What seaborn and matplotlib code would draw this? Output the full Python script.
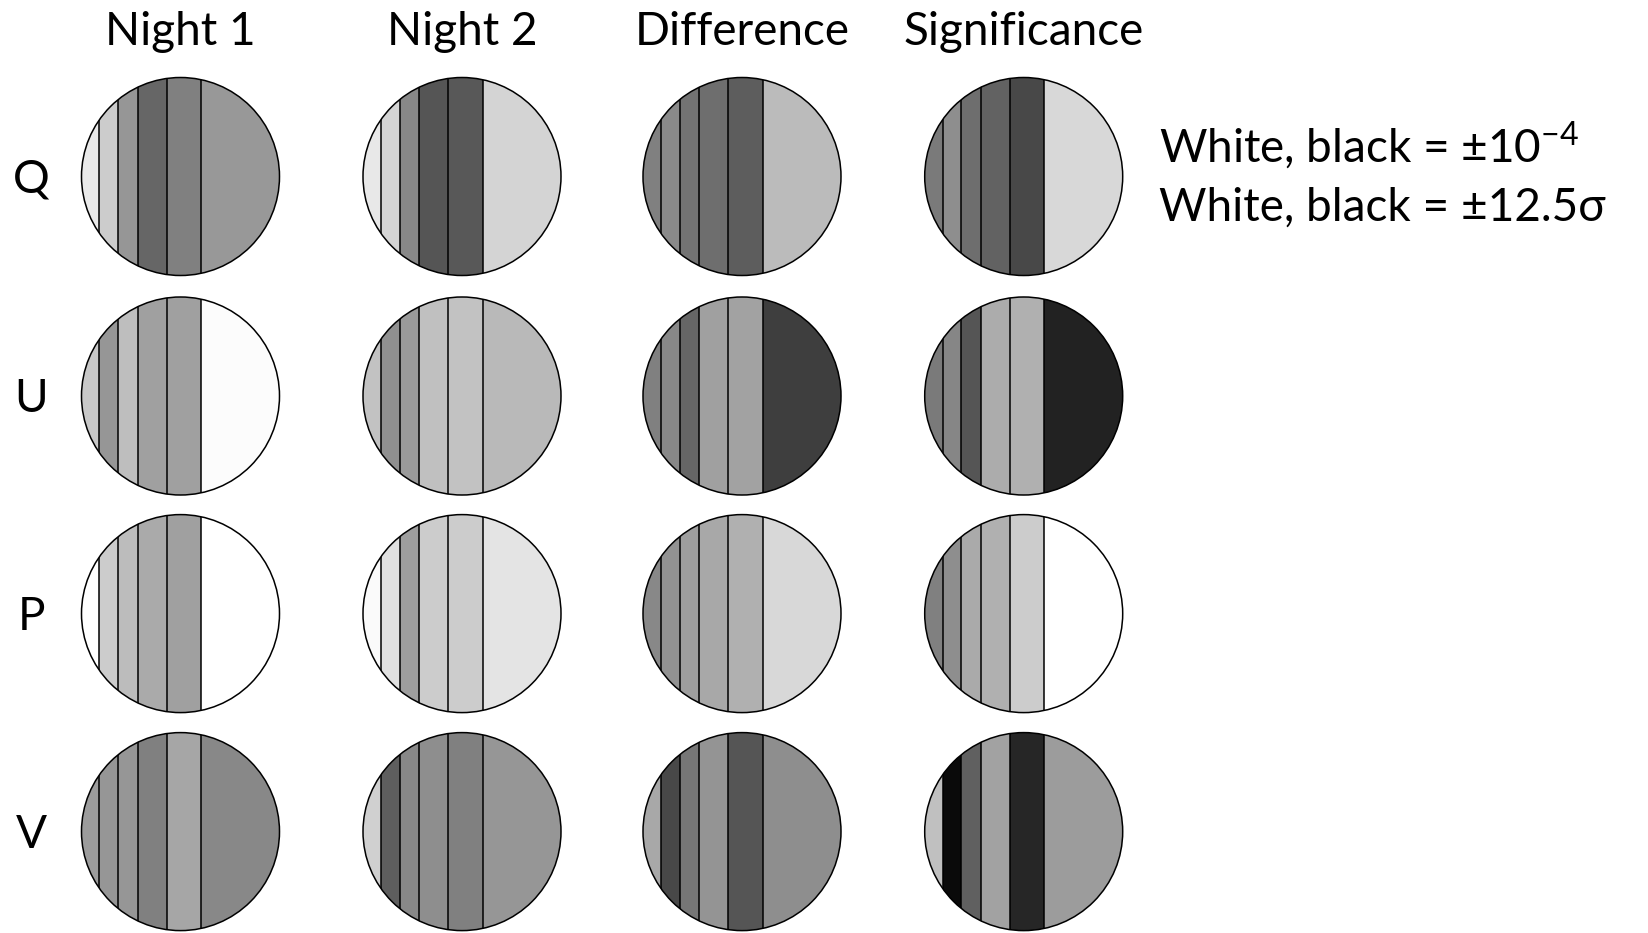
import numpy as np
import matplotlib
matplotlib.use("Agg")
import matplotlib.pyplot as plt
import seaborn as sns
from matplotlib.patches import Circle

# panels: rows are Stokes parameters, columns are the four maps
row_labels = ["Q", "U", "P", "V"]
col_labels = ["Night 1", "Night 2", "Difference", "Significance"]

# strip boundaries across the disc (in units of disc radius)
strip_edges = [-1.0, -0.82, -0.63, -0.43, -0.14, 0.21, 1.0]

# grey level (0=black, 255=white) of each strip, left to right
q_grey = [[234, 204, 150, 102, 128, 152],
          [232, 212, 136, 85, 88, 212],
          [128, 138, 115, 110, 93, 187],
          [122, 142, 110, 98, 72, 216]]
u_grey = [[200, 150, 190, 160, 160, 252],
          [194, 144, 154, 192, 194, 185],
          [128, 136, 102, 160, 162, 62],
          [122, 134, 85, 172, 176, 34]]
p_grey = [[255, 204, 188, 170, 160, 255],
          [250, 224, 158, 204, 204, 228],
          [136, 146, 158, 168, 176, 216],
          [128, 142, 170, 176, 204, 255]]
v_grey = [[156, 150, 150, 128, 166, 136],
          [208, 94, 136, 142, 128, 150],
          [168, 72, 118, 148, 85, 142],
          [192, 10, 96, 162, 38, 156]]
greys = [q_grey, u_grey, p_grey, v_grey]

legend_lines = ["White, black = ±10$^{\\mathregular{-4}}$",
                "White, black = ±12.5σ"]

sns.set_theme(style="white")
plt.rcParams["font.family"] = ["Lato", "DejaVu Sans"]
plt.rcParams["mathtext.fontset"] = "custom"
plt.rcParams["mathtext.rm"] = "Lato"

W, H = 1648, 933
fig = plt.figure(figsize=(W / 100, H / 100), dpi=100)

col_x = [180.5, 462, 742, 1023.7]
row_y = [176.5, 396, 613.6, 831.6]
R = 99
FS = 33

edges = np.array(strip_edges)
widths = np.diff(edges)

for i, rl in enumerate(row_labels):
    for j, cl in enumerate(col_labels):
        cx, cy = col_x[j], row_y[i]
        ax = fig.add_axes([(cx - R) / W, 1 - (cy + R) / H, 2 * R / W, 2 * R / H])
        ax.set_xlim(-1, 1)
        ax.set_ylim(-1, 1)
        ax.axis("off")
        disc = Circle((0, 0), 1, transform=ax.transData, facecolor="none",
                      edgecolor="black", lw=1.1, clip_on=False, zorder=5)
        ax.add_patch(disc)
        cols = [str(g / 255) for g in greys[i][j]]
        bars = ax.bar(edges[:-1], 2, width=widths, bottom=-1, align="edge",
                      color=cols, edgecolor="none", linewidth=0)
        for b in bars:
            b.set_clip_path(disc)
        for e in edges[1:-1]:
            ln, = ax.plot([e, e], [-1, 1], color="black", lw=1.1, zorder=4)
            ln.set_clip_path(disc)

for j, cl in enumerate(col_labels):
    fig.text(col_x[j] / W, 1 - 45 / H, cl, ha="center", va="baseline",
             fontsize=FS, color="black")

for i, rl in enumerate(row_labels):
    fig.text(31.5 / W, 1 - (row_y[i] + 16) / H, rl, ha="center",
             va="baseline", fontsize=FS, color="black")

for k, line in enumerate(legend_lines):
    fig.text(1159 / W, 1 - (163 + 58 * k) / H, line, ha="left",
             va="baseline", fontsize=FS, color="black")

fig.savefig("out.png", dpi=100, facecolor="white")
